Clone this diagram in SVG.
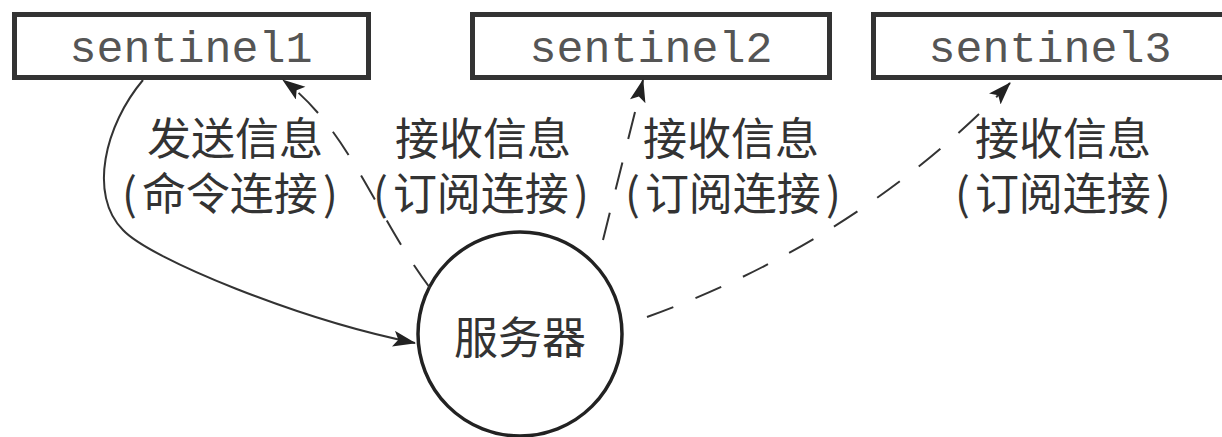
<svg xmlns="http://www.w3.org/2000/svg" width="1222" height="437" viewBox="0 0 1222 437">
<style>
.box{fill:#fff;stroke:#333;stroke-width:5}
.mono{font-family:"Liberation Mono","DejaVu Sans Mono",monospace;font-size:45px;fill:#555;text-anchor:middle}
.cjk{font-family:"Noto Sans CJK SC","Noto Sans",sans-serif;font-size:44px;fill:#333}
.edge{fill:none;stroke:#333;stroke-width:2}
.dash{stroke-dasharray:28 24}
</style>
<defs>
<marker id="arr" markerUnits="userSpaceOnUse" markerWidth="24" markerHeight="18" refX="22" refY="8" orient="auto">
<path d="M0,0 L23,8 L0,16 L5,8 z" fill="#222"/>
</marker>
</defs>
<rect width="1222" height="437" fill="#fff"/>
<g id="sentinel1">
<rect class="box" x="14.5" y="14.5" width="354" height="63"/>
<text class="mono" x="191" y="62">sentinel1</text>
</g>
<g id="sentinel2">
<rect class="box" x="472.5" y="14.5" width="357" height="63"/>
<text class="mono" x="651" y="62">sentinel2</text>
</g>
<g id="sentinel3">
<rect class="box" x="873.5" y="14.5" width="360" height="63"/>
<text class="mono" x="1050" y="62">sentinel3</text>
</g>
<g id="server">
<circle cx="520" cy="334" r="102" fill="#fff" stroke="#222" stroke-width="3.5"/>
<text class="cjk" x="520" y="354" text-anchor="middle" font-size="46">服务器</text>
</g>
<g id="connectors">
<path class="edge" d="M143,80 C105,125 88,195 123,230 C150,259 300,320 415,343" marker-end="url(#arr)"/>
<path class="edge dash" d="M430,288 C375,215 350,130 283,80" marker-end="url(#arr)"/>
<path class="edge dash" d="M603,240 L643,80" marker-end="url(#arr)"/>
<path class="edge dash" d="M647,317 Q860,240 1010,83" marker-end="url(#arr)"/>
</g>
<g id="labels">
<text class="cjk"><tspan x="147" y="155">发送信息</tspan><tspan x="122" y="210">(</tspan><tspan dx="5">命令连接</tspan><tspan dx="5">)</tspan></text>
<text class="cjk"><tspan x="395" y="155">接收信息</tspan><tspan x="373" y="210">(</tspan><tspan dx="5">订阅连接</tspan><tspan dx="5">)</tspan></text>
<text class="cjk"><tspan x="643" y="155">接收信息</tspan><tspan x="625" y="210">(</tspan><tspan dx="5">订阅连接</tspan><tspan dx="5">)</tspan></text>
<text class="cjk"><tspan x="975" y="155">接收信息</tspan><tspan x="955" y="210">(</tspan><tspan dx="5">订阅连接</tspan><tspan dx="5">)</tspan></text>
</g>
</svg>
